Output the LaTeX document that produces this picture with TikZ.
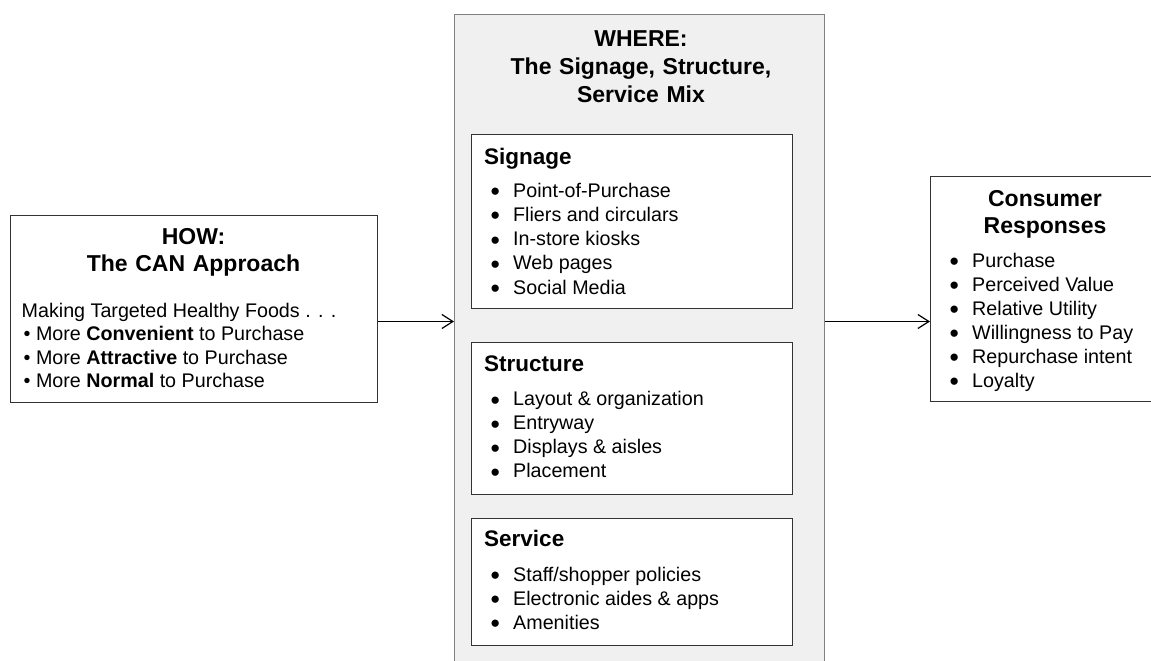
\documentclass[tikz,border=0pt]{standalone}
\usepackage{fontspec}
\setmainfont{Liberation Sans}
\usetikzlibrary{arrows.meta}
\newcommand{\bul}{\makebox[22.5pt][l]{\raisebox{-3.5pt}{\scalebox{1.35}{\textbullet}}}}

\begin{document}
\begin{tikzpicture}[x=1pt,y=-1pt,
    panel/.style = {draw=black!50, line width=1.2pt, fill=black!6, inner sep=0pt},
    box/.style = {draw=black!80, line width=1.2pt, fill=white, inner sep=0pt},
    title/.style = {font=\fontsize{23}{27.5}\selectfont\bfseries, align=center,
        anchor=base, inner sep=0pt},
    sub/.style = {font=\fontsize{22.5}{24}\selectfont\bfseries, anchor=base west,
        inner sep=0pt},
    item/.style = {font=\fontsize{19.7}{24}\selectfont, anchor=base west,
        inner sep=0pt, text height=14.5pt, text depth=4pt},
    link/.style = {-{Straight Barb[length=11pt,width=14pt]}, line width=1.2pt}]
\useasboundingbox (0,0) rectangle (1151,661);

% boxes
\node[panel, minimum width=370pt, minimum height=660pt, anchor=north west]
    (where) at (454,14) {};
\node[box, minimum width=367pt, minimum height=187pt, anchor=north west]
    (how) at (10,215) {};
\node[box, minimum width=321pt, minimum height=174pt, anchor=north west]
    (sign) at (471,134) {};
\node[box, minimum width=321pt, minimum height=152pt, anchor=north west]
    (struct) at (471,342) {};
\node[box, minimum width=321pt, minimum height=127pt, anchor=north west]
    (serv) at (471,518) {};
\node[box, minimum width=230pt, minimum height=225pt, anchor=north west]
    (cons) at (930,176) {};

% HOW
\node[title, text width=360pt] (howtitle) at (193.5,244)
    {HOW:\\ The CAN Approach};
\node[item] (howtext) at (21.5,317) {Making Targeted Healthy Foods . . .};
\foreach \w [count=\i from 0] in {Convenient, Attractive, Normal}
    \node[item] (how\i) at (23.5,340.5+23.7*\i)
        {\textbullet{} More \textbf{\w} to Purchase};

% WHERE
\node[title, text width=360pt] (wheretitle) at (641,47)
    {WHERE:\\ The Signage, Structure,\\ Service Mix};
\node[sub] (signtitle) at (484,164) {Signage};
\foreach \t [count=\i from 0] in {Point-of-Purchase, Fliers and circulars,
        In-store kiosks, Web pages, Social Media}
    \node[item] (sign\i) at (490.5,197+24.3*\i) {\bul\t};
\node[sub] (structtitle) at (484,371) {Structure};
\foreach \t [count=\i from 0] in {Layout \& organization, Entryway,
        Displays \& aisles, Placement}
    \node[item] (struct\i) at (490.5,405.5+24.1*\i) {\bul\t};
\node[sub] (servtitle) at (484,546) {Service};
\foreach \t [count=\i from 0] in {Staff/shopper policies,
        Electronic aides \& apps, Amenities}
    \node[item] (serv\i) at (490.5,581+24*\i) {\bul\t};

% Consumer
\node[title, text width=220pt] (constitle) at (1045,206)
    {Consumer\\ Responses};
\foreach \t [count=\i from 0] in {Purchase, Perceived Value, Relative Utility,
        Willingness to Pay, Repurchase intent, Loyalty}
    \node[item] (cons\i) at (949.5,267+24*\i) {\bul\t};

% arrows
\coordinate (lvl) at (0,321.5);
\draw[link] (how.east |- lvl) -- (where.west |- lvl);
\draw[link] (where.east |- lvl) -- (cons.west |- lvl);
\end{tikzpicture}
\end{document}
